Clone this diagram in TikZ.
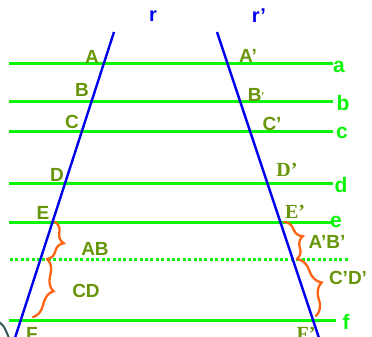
\documentclass[tikz,border=0pt]{standalone}
\usepackage{fontspec}
\setmainfont{Liberation Sans}
\newfontfamily\timesb{Liberation Serif}
\usetikzlibrary{decorations.pathreplacing}
\definecolor{lime}{RGB}{10,245,10}
\definecolor{olive}{RGB}{104,150,10}
\definecolor{royal}{RGB}{0,0,235}
\definecolor{tangerine}{RGB}{255,100,20}
\definecolor{slate}{RGB}{50,90,90}
\tikzset{
  parallel/.style={draw=lime,line width=3pt},
  dotline/.style={draw=lime,line width=3pt,dash pattern=on 3pt off 2.4pt},
  transversal/.style={draw=royal,line width=2.4pt},
  pt/.style={font=\fontsize{19}{19}\selectfont\bfseries,text=olive,inner sep=0pt},
  ptserif/.style={font=\fontsize{20}{20}\selectfont\timesb\bfseries,text=olive,inner sep=0pt},
  linename/.style={font=\fontsize{21}{21}\selectfont\bfseries,text=lime,inner sep=0pt},
  rname/.style={font=\fontsize{20}{20}\selectfont\bfseries,text=royal,inner sep=0pt},
  seg/.style={draw=tangerine,line width=2.3pt,line cap=round,decorate,
    decoration={brace,amplitude=#1}},
  seg/.default=13pt,
}
\begin{document}
\begin{tikzpicture}[x=1pt,y=-1pt]
  \useasboundingbox[fill=white] (0,0) rectangle (372,337);
  % parallel lines
  \draw[parallel] (9,64) -- (333,64);
  \draw[parallel] (9,101) -- (333,101);
  \draw[parallel] (9,131) -- (333,131);
  \draw[parallel] (9,183) -- (333,183);
  \draw[parallel] (9,222) -- (331,222);
  \draw[dotline] (10,259) -- (348,259);
  \draw[parallel] (9,320) -- (336,320);
  % transversals
  \coordinate (rtop) at (114,32);
  \coordinate (rbot) at (14,341);
  \coordinate (qtop) at (217,32);
  \coordinate (qbot) at (320,341);
  \draw[transversal] (rtop) -- (rbot);
  \draw[transversal] (qtop) -- (qbot);
  \draw[slate,line width=2pt] (-1,322) .. controls (4,326) .. (9,338);
  \node[rname] (r) at (153,16) {r};
  \node[rname] (rp) at (259,16) {r’};
  % points on r
  \node[pt] (A) at (92,57) {A};
  \node[pt] (B) at (82,90) {B};
  \node[pt] (C) at (72,122) {C};
  \node[pt] (D) at (57,175) {D};
  \node[pt] (E) at (43,213) {E};
  \node[pt] (F) at (32,334) {F};
  % points on r'
  \node[pt] (Ap) at (248,56) {A’};
  \node[pt] (Bp) at (256,95) {B\raisebox{2pt}{\fontsize{10}{10}\selectfont’}};
  \node[pt] (Cp) at (272,124) {C’};
  \node[ptserif] (Dp) at (287,170) {D’};
  \node[ptserif] (Ep) at (295,212) {E’};
  \node[ptserif] (Fp) at (306,334) {F’};
  % line names
  \node[linename] (a) at (339,67) {a};
  \node[linename] (b) at (343,103) {b};
  \node[linename] (c) at (342,133) {c};
  \node[linename] (d) at (341,185) {d};
  \node[linename] (e) at (336,222) {e};
  \node[linename] (f) at (346,322) {f};
  % braces
  \coordinate (l1) at (55,222);
  \coordinate (l2) at (47,259);
  \coordinate (l3) at (33,317);
  \coordinate (q1) at (284,222);
  \coordinate (q2) at (297,259);
  \coordinate (q3) at (316,316);
  \draw[seg] (l1) -- (l2);
  \draw[seg=14pt] (l2) -- (l3);
  \draw[seg] (q1) -- (q2);
  \draw[seg=16pt] (q2) -- (q3);
  \node[pt] (AB) at (95,249) {AB};
  \node[pt] (CD) at (86,291) {CD};
  \node[pt] (ApBp) at (327,242) {A’B’};
  \node[pt] (CpDp) at (348,278) {C’D’};
\end{tikzpicture}
\end{document}
